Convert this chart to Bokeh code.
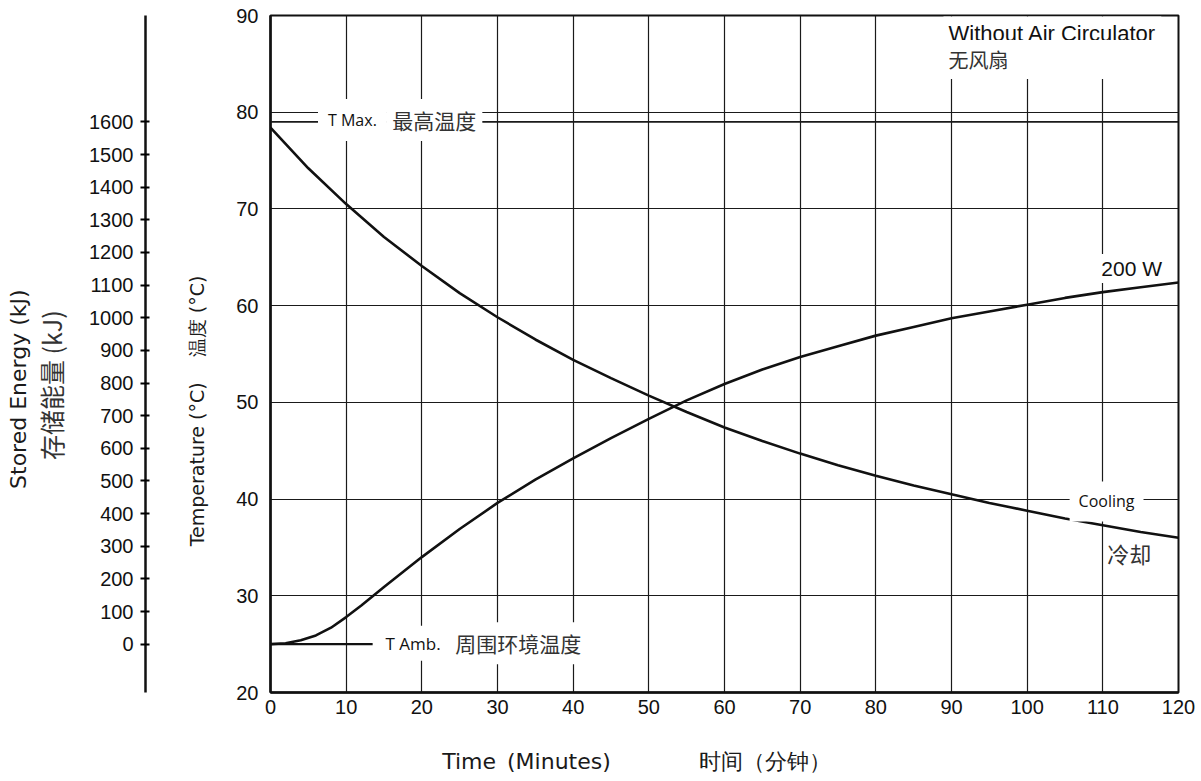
from bokeh.plotting import figure
from bokeh.models import (Range1d, LinearAxis, FixedTicker, Label, Span)
from bokeh.embed import file_html
from bokeh.resources import INLINE

# ---------------- data ----------------
heat_time = [0, 2, 4, 6, 8, 10, 12, 15, 20, 25, 30, 35, 40, 45, 50, 55, 60,
             65, 70, 75, 80, 85, 90, 95, 100, 105, 110, 115, 120]
heat_temp = [25.0, 25.1, 25.4, 25.9, 26.7, 27.8, 29.0, 30.9, 34.0, 36.9, 39.6,
             42.0, 44.2, 46.3, 48.3, 50.2, 51.9, 53.4, 54.7, 55.8, 56.9, 57.8,
             58.7, 59.4, 60.1, 60.8, 61.4, 61.9, 62.4]

cool_time = [0, 5, 10, 15, 20, 25, 30, 35, 40, 45, 50, 55, 60, 65, 70, 75, 80,
             85, 90, 95, 100, 105, 110, 115, 120]
cool_temp = [78.4, 74.2, 70.5, 67.1, 64.1, 61.3, 58.8, 56.5, 54.4, 52.5, 50.7,
             49.0, 47.4, 46.0, 44.7, 43.5, 42.4, 41.4, 40.5, 39.6, 38.8, 38.0,
             37.3, 36.6, 36.0]

T_MAX = 79.0
T_AMB = 25.0
amb_line_time = [0, 13.5]
amb_line_temp = [T_AMB, T_AMB]

time_ticks = list(range(0, 121, 10))
temp_ticks = list(range(20, 91, 10))
energy_ticks = list(range(0, 1601, 100))
ENERGY_AT_TMAX = 1600.0   # kJ stored at T Max

EM = "\u2003"
EN = "\u2002"
x_title = "Time" + EN + "(Minutes)" + EM * 4 + "时间（分钟）" + EM * 8
temp_title = "Temperature (°C)" + EM + " 温度 (°C)" + EM * 6
energy_title_en = "Stored Energy (kJ)" + EM * 3 + "\u2009"
energy_title_zh = "存储能量 (kJ)" + EM * 2 + EN

# --------------- figure ---------------
p = figure(width=1196, height=776, output_backend="svg", toolbar_location=None,
           x_range=Range1d(0, 120), y_range=Range1d(20, 90),
           min_border_left=270, min_border_right=18, min_border_top=15,
           min_border_bottom=84)
p.background_fill_color = "white"
p.border_fill_color = "white"
p.outline_line_color = "#111111"
p.outline_line_width = 2

TICK_FONT = "Liberation Sans"
HUM_FONT = "Open Sans"
WIDE_FONT = "DejaVu Sans"
CJK_FONT = "Noto Sans CJK SC"

# x axis
p.xaxis.ticker = FixedTicker(ticks=time_ticks)
p.xaxis.major_tick_out = 0
p.xaxis.major_tick_in = 0
p.xaxis.minor_tick_out = 0
p.xaxis.minor_tick_in = 0
p.xaxis.major_label_standoff = 7
p.xaxis.major_label_text_font = TICK_FONT
p.xaxis.major_label_text_font_size = "20px"
p.xaxis.major_label_text_color = "#111111"
p.xaxis.axis_line_width = 2.5
p.xaxis.axis_line_color = "#111111"
p.xaxis.axis_label = x_title
p.xaxis.axis_label_standoff = 32
p.xaxis.axis_label_text_font = WIDE_FONT
p.xaxis.axis_label_text_font_size = "22px"
p.xaxis.axis_label_text_font_style = "normal"
p.xaxis.axis_label_text_color = "#1a1a1a"

# temperature axis
p.yaxis.ticker = FixedTicker(ticks=temp_ticks)
p.yaxis.major_tick_out = 0
p.yaxis.major_tick_in = 0
p.yaxis.minor_tick_out = 0
p.yaxis.minor_tick_in = 0
p.yaxis.major_label_standoff = 12
p.yaxis.major_label_text_font = TICK_FONT
p.yaxis.major_label_text_font_size = "20px"
p.yaxis.major_label_text_color = "#111111"
p.yaxis.axis_line_width = 2.5
p.yaxis.axis_line_color = "#111111"
p.yaxis.axis_label = temp_title
p.yaxis.axis_label_standoff = 25
p.yaxis.axis_label_text_font = WIDE_FONT
p.yaxis.axis_label_text_font_size = "19px"
p.yaxis.axis_label_text_font_style = "normal"
p.yaxis.axis_label_text_color = "#1a1a1a"

# grid
for g, t in ((p.xgrid, time_ticks), (p.ygrid, temp_ticks)):
    g.ticker = FixedTicker(ticks=t)
    g.grid_line_color = "#1a1a1a"
    g.grid_line_width = 1.2

# spacer axis (blank) between temperature axis and energy axis
spacer = LinearAxis(ticker=FixedTicker(ticks=[55]), axis_line_color=None,
                    major_tick_line_color="white", minor_tick_line_color=None,
                    major_tick_out=38, major_tick_in=0, major_label_standoff=0,
                    major_label_overrides={55: ""},
                    major_label_text_color="white")
p.add_layout(spacer, "left")

# energy axis: linear with temperature, 0 kJ at T Amb, 1600 kJ at T Max
k = ENERGY_AT_TMAX / (T_MAX - T_AMB)
p.extra_y_ranges = {"energy": Range1d((20 - T_AMB) * k, (90 - T_AMB) * k)}
eaxis = LinearAxis(y_range_name="energy", ticker=FixedTicker(ticks=energy_ticks))
eaxis.major_tick_out = 5
eaxis.major_tick_in = 4
eaxis.minor_tick_out = 0
eaxis.minor_tick_in = 0
eaxis.major_tick_line_width = 2
eaxis.major_label_standoff = 7
eaxis.major_label_text_font = TICK_FONT
eaxis.major_label_text_font_size = "20px"
eaxis.major_label_text_color = "#111111"
eaxis.axis_line_width = 2.5
eaxis.axis_line_color = "#111111"
eaxis.axis_label = energy_title_zh
eaxis.axis_label_standoff = 17
eaxis.axis_label_text_font = CJK_FONT
eaxis.axis_label_text_font_size = "25px"
eaxis.axis_label_text_font_style = "normal"
eaxis.axis_label_text_color = "#333333"
p.add_layout(eaxis, "left")

# outer axis carrying the English energy title
etitle = LinearAxis(ticker=FixedTicker(ticks=[]), axis_line_color=None,
                    major_tick_out=0, major_tick_in=0, major_label_standoff=0,
                    axis_label=energy_title_en, axis_label_standoff=0,
                    axis_label_text_font=WIDE_FONT,
                    axis_label_text_font_size="22px",
                    axis_label_text_font_style="normal",
                    axis_label_text_color="#1a1a1a")
p.add_layout(etitle, "left")

# reference lines
p.add_layout(Span(location=T_MAX, dimension="width", line_color="#1a1a1a",
                  line_width=1.6))
p.line(amb_line_time, amb_line_temp, line_color="#111111", line_width=2.2)

# curves
p.line(heat_time, heat_temp, line_color="#111111", line_width=2.6)
p.line(cool_time, cool_temp, line_color="#111111", line_width=2.6)


def lab(x, y, text, font, size, color="#111111", bg=None, pad=0):
    kw = {}
    if bg:
        kw["background_fill_color"] = bg
        kw["padding"] = pad
        kw["x_offset"] = -pad
    p.add_layout(Label(x=x, y=y, text=text, text_font=font,
                       text_font_size=f"{size}px", text_color=color,
                       text_baseline="middle", text_align="left", **kw))


# annotations inside the frame
lab(7.6, 79.2, "T Max.", HUM_FONT, 16, bg="white", pad=10)
lab(16.1, 79.2, "最高温度", CJK_FONT, 21, color="#333333", bg="white", pad=6)
lab(15.2, 25.1, "T Amb.", HUM_FONT, 17, bg="white", pad=6)
lab(24.4, 25.1, "周围环境温度", CJK_FONT, 21, color="#333333", bg="white", pad=6)
lab(106.8, 39.75, "Cooling", HUM_FONT, 16, bg="white", pad=9)
lab(110.6, 34.4, "冷却", CJK_FONT, 22, color="#333333")
lab(109.8, 63.85, "200 W", TICK_FONT, 21, bg="white", pad=3)
lab(89.6, 88.1, "Without Air Circulator", TICK_FONT, 22, bg="white", pad=5)
lab(89.6, 85.45, "无风扇" + EM * 8, CJK_FONT, 20, color="#333333", bg="white", pad=5)

open("out.html", "w").write(file_html(p, INLINE))
